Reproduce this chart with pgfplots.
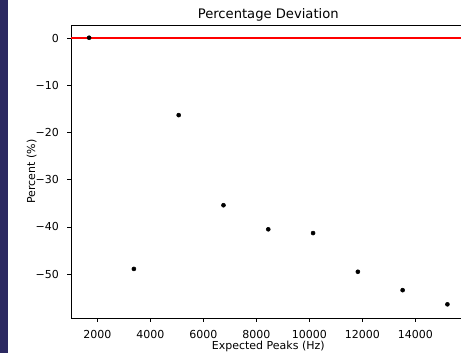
\documentclass[border=0pt]{standalone}
\usepackage{fontspec}
\setmainfont{DejaVu Sans}
\usepackage{pgfplots}
\pgfplotsset{compat=1.18}
\definecolor{strip}{RGB}{43,41,97}
\begin{document}
\begin{tikzpicture}
\fill[white] (-53.4pt,-26.25pt) rectangle (292.35pt,238.5pt);
\begin{axis}[
  at={(0,0)}, anchor=south west,
  width=295.6pt, height=219.75pt, scale only axis,
  xmin=1014, xmax=15886, ymin=-59.3, ymax=2.8,
  axis line style={black, line width=0.65pt},
  tick style={black, line width=0.65pt},
  tick align=outside, major tick length=3pt,
  xtick pos=bottom, ytick pos=left,
  xtick={2000,4000,6000,8000,10000,12000,14000},
  xticklabels={2000,4000,6000,8000,10000,12000,14000},
  ytick={-50,-40,-30,-20,-10,0},
  yticklabels={−50,−40,−30,−20,−10,0},
  scaled x ticks=false,
  tick label style={font=\fontsize{8.25}{10}\selectfont, inner sep=0pt},
  xticklabel style={anchor=base, yshift=-12.75pt},
  yticklabel style={anchor=east, xshift=-6pt},
  every axis title/.style={at={(axis description cs:0.5,1.0228)}, anchor=base, inner sep=0pt, font=\fontsize{9.85}{12}\selectfont},
  every axis x label/.style={at={(axis description cs:0.5,-0.1092)}, anchor=base, inner sep=0pt, font=\fontsize{8.25}{10}\selectfont},
  every axis y label/.style={at={(axis description cs:-0.0913,0.5)}, rotate=90, anchor=base, inner sep=0pt, font=\fontsize{8.25}{10}\selectfont},
  title={Percentage Deviation},
  xlabel={Expected Peaks (Hz)},
  ylabel={Percent (\%)},
  clip=false,
]
\addplot[red, line width=1.3pt] coordinates {(1014,0) (15886,0)};
\addplot[only marks, mark=*, mark size=1.5pt, black] coordinates {
(1690,0.1)
(3380,-48.9)
(5070,-16.3)
(6760,-35.4)
(8450,-40.5)
(10140,-41.3)
(11830,-49.5)
(13520,-53.4)
(15210,-56.4)
};
\end{axis}
\fill[strip] (-53.4pt,-26.25pt) rectangle (-47.4pt,238.5pt);
\pgfresetboundingbox
\path[use as bounding box] (-53.4pt,-26.25pt) rectangle (292.35pt,238.5pt);
\end{tikzpicture}
\end{document}
